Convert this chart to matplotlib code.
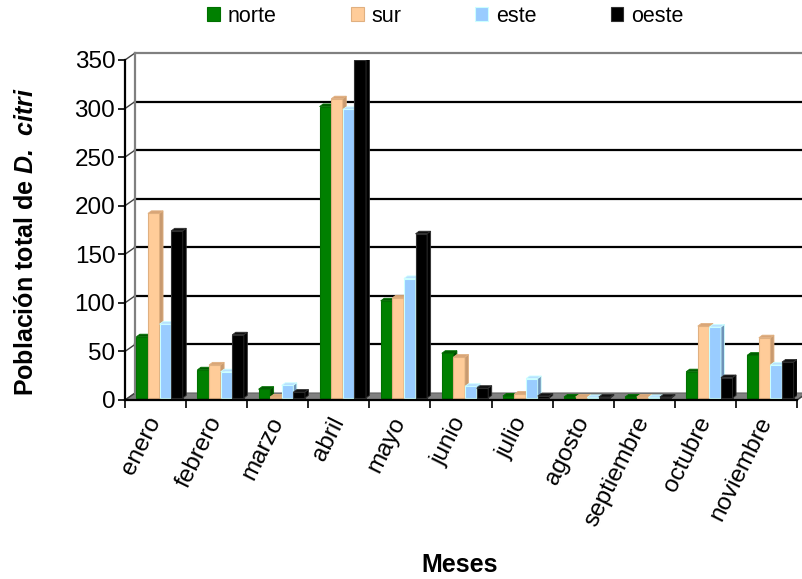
import numpy as np
import matplotlib
matplotlib.use('Agg')
import matplotlib.pyplot as plt
from matplotlib.patches import Polygon, Patch

plt.rcParams['font.family'] = 'Liberation Sans'
plt.rcParams['mathtext.fontset'] = 'custom'
plt.rcParams['mathtext.bfit'] = 'Liberation Sans:italic:bold'

# monthly totals per orchard side
meses = ['enero', 'febrero', 'marzo', 'abril', 'mayo', 'junio', 'julio',
         'agosto', 'septiembre', 'octubre', 'noviembre']
norte = [63, 29, 9, 300, 100, 46, 2, 1, 1, 27, 44]
sur = [190, 34, 1, 308, 103, 42, 4, 1, 1, 74, 62]
este = [76, 27, 13, 297, 123, 12, 20, 0.5, 0.5, 73, 34]
oeste = [172, 65, 6, 348, 169, 10, 2, 1, 1, 21, 37]

series = [('norte', norte), ('sur', sur), ('este', este), ('oeste', oeste)]
# front, top and side shades of each series, plus edge colour
colores = {
    'norte': ('#008000', '#005c00', '#004800', '#007000'),
    'sur': ('#ffcc99', '#d9a577', '#c89a70', '#e0b080'),
    'este': ('#99ccff', '#b8e0ff', '#6f93b8', '#ccffff'),
    'oeste': ('#000000', '#101010', '#000000', '#303030'),
}

fig = plt.figure(figsize=(8.03, 5.79), dpi=100)
ax = fig.add_axes([125 / 803, 179 / 579, 672 / 803, 340 / 579])
ax.set_xlim(0, len(meses))
ax.set_ylim(0, 350)

# pixel -> data conversion for the fake depth
px_x = 61.1
px_y = 340 / 350
wall_dx, wall_dy = 10 / px_x, 7 / px_y
bar_dx, bar_dy = 4 / px_x, 2 / px_y
side_dx, side_dy = 3.5 / px_x, 2.6 / px_y
ancho = 0.19
n = len(meses)

# floor
ax.add_patch(Polygon([(0, 0), (n, 0), (n + wall_dx, wall_dy), (wall_dx, wall_dy)],
                     closed=True, facecolor='#808080', edgecolor='#606060',
                     lw=0.8, clip_on=False, zorder=1))
# back wall gridlines and frame
yt = np.arange(0, 351, 50)
for v in yt[1:-1]:
    ax.plot([wall_dx, n + wall_dx], [v + wall_dy, v + wall_dy], color='black',
            lw=1.6, clip_on=False, zorder=1)
for v in yt:
    ax.plot([0, wall_dx], [v, v + wall_dy], color='#404040', lw=1.0,
            clip_on=False, zorder=1)
ax.plot([wall_dx, n + wall_dx], [350 + wall_dy, 350 + wall_dy], color='#808080',
        lw=1.6, clip_on=False, zorder=1)
ax.plot([wall_dx, wall_dx], [wall_dy, 350 + wall_dy], color='#808080', lw=1.6,
        clip_on=False, zorder=1)
ax.plot([n, n + wall_dx], [0, wall_dy], color='#404040', lw=1.0,
        clip_on=False, zorder=1)

# 3D-looking columns, drawn left to right so each one hides the side of the previous
x0 = np.arange(n) + 0.5 - 2 * ancho + bar_dx
z = 2
for i in range(n):
    for k, (nombre, vals) in enumerate(series):
        frente, arriba, lado, borde = colores[nombre]
        x = x0[i] + k * ancho
        v = vals[i]
        b = bar_dy
        ax.bar(x, v, width=ancho, bottom=b, align='edge', color=frente,
               edgecolor=borde, lw=0.8, zorder=z)
        ax.add_patch(Polygon([(x, v + b), (x + ancho, v + b),
                              (x + ancho + side_dx, v + b + side_dy),
                              (x + side_dx, v + b + side_dy)], closed=True,
                             facecolor=arriba, edgecolor=borde, lw=0.6, zorder=z))
        ax.add_patch(Polygon([(x + ancho, b), (x + ancho, v + b),
                              (x + ancho + side_dx, v + b + side_dy),
                              (x + ancho + side_dx, b + side_dy)], closed=True,
                             facecolor=lado, edgecolor=borde, lw=0.6, zorder=z))
        z += 1

for s in ['top', 'right']:
    ax.spines[s].set_visible(False)
ax.spines['left'].set_linewidth(1.6)
ax.spines['bottom'].set_linewidth(1.6)
ax.spines['left'].set_zorder(100)
ax.spines['bottom'].set_zorder(100)

ax.set_yticks(yt)
ax.tick_params(axis='y', labelsize=17.5, length=5, width=1.2, pad=2)
ax.set_xticks(np.arange(n + 1))
ax.set_xticklabels([])
ax.tick_params(axis='x', length=6, width=1.2)
ax.set_xticks(np.arange(n) + 0.5, minor=True)
ax.set_xticklabels(meses, minor=True, rotation=63.5, ha='right', va='center',
                   rotation_mode='anchor', fontsize=17.5)
ax.tick_params(axis='x', which='minor', length=0, pad=13)

fig.text(460 / 803, 1 - 565 / 579, 'Meses', ha='center', va='center',
         fontsize=18, fontweight='bold')
fig.text(26 / 803, 1 - 242 / 579, r'Población total de $\mathbfit{D.\ citri}$',
         ha='center', va='center', rotation=90, fontsize=18, fontweight='bold')

handles = [Patch(facecolor=colores[nm][0], edgecolor=colores[nm][3], lw=0.8)
           for nm, _ in series]
fig.legend(handles, [nm for nm, _ in series], ncol=4, frameon=False,
           loc='center left', bbox_to_anchor=(207 / 803, 1 - 16 / 579),
           fontsize=15.5, handlelength=0.6, handleheight=0.6,
           handletextpad=0.35, columnspacing=3.45, borderpad=0, borderaxespad=0)

fig.savefig('out.png', dpi=100)
